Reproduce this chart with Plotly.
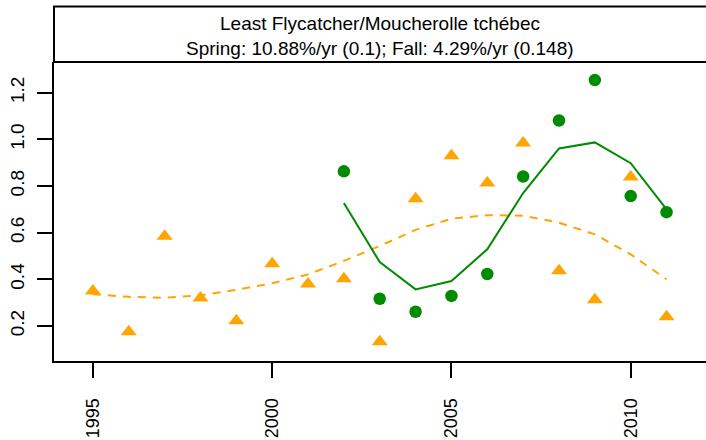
import plotly.graph_objects as go

# datos
years = list(range(1995, 2012))
fall = [0.35, 0.175, 0.585, 0.32, 0.222, 0.467, 0.38, 0.403, 0.133, 0.745,
        0.93, 0.813, 0.984, 0.437, 0.312, 0.839, 0.24]
fall_trend = [0.336, 0.325, 0.321, 0.331, 0.355, 0.383, 0.421, 0.479, 0.543, 0.612,
              0.66, 0.675, 0.673, 0.643, 0.593, 0.507, 0.40]

spring_years = list(range(2002, 2012))
spring = [0.863, 0.317, 0.261, 0.329, 0.423, 0.841, 1.081, 1.254, 0.757, 0.688]
spring_trend = [0.727, 0.474, 0.357, 0.393, 0.529, 0.77, 0.961, 0.987, 0.898, 0.70]

title1 = "Least Flycatcher/Moucherolle tchébec"
title2 = "Spring: 10.88%/yr (0.1); Fall: 4.29%/yr (0.148)"
xticks = [1995, 2000, 2005, 2010]
yticks = [0.2, 0.4, 0.6, 0.8, 1.0, 1.2]

green = "#008B00"
orange = "#FFA500"

fig = go.Figure()
fig.add_trace(go.Scatter(x=years, y=fall_trend, mode="lines",
                         line=dict(color=orange, width=2, dash="8px,7px")))
fig.add_trace(go.Scatter(x=spring_years, y=spring_trend, mode="lines",
                         line=dict(color=green, width=2)))
fig.add_trace(go.Scatter(x=years, y=fall, mode="markers",
                         marker=dict(symbol="triangle-up", size=14, color=orange)))
fig.add_trace(go.Scatter(x=spring_years, y=spring, mode="markers",
                         marker=dict(symbol="circle", size=12.5, color=green)))

axis_font = dict(family="Liberation Sans, Arial", size=19, color="black")

fig.update_xaxes(range=[1993.915, 2012.1], tickvals=xticks, ticks="outside", ticklen=15,
                 tickwidth=1.5, tickcolor="black", showline=True, linecolor="black",
                 linewidth=2, showgrid=False, zeroline=False, tickangle=-90,
                 tickfont=dict(family="Liberation Sans, Arial", size=18, color="black"),
                 ticklabelstandoff=13, automargin=False)
fig.update_yaxes(range=[0.05, 1.3316], tickvals=yticks, tickformat=".1f", ticks="outside",
                 ticklen=15, tickwidth=1.5, tickcolor="black", showline=True,
                 linecolor="black", linewidth=2, showgrid=False, zeroline=False,
                 tickangle=-90, tickfont=axis_font, ticklabelstandoff=5, automargin=False)

# caja del titulo (strip)
fig.add_shape(type="rect", xref="paper", yref="paper", x0=0, x1=1.05, y0=1, y1=1 + 55.5 / 299,
              line=dict(color="black", width=2), fillcolor="rgba(0,0,0,0)")

title_font = dict(family="Liberation Sans, Arial", size=19, color="black")
fig.add_annotation(text=title1, xref="paper", yref="paper", x=0.5, y=(361 - 23) / 299,
                   showarrow=False, font=title_font, yanchor="middle")
fig.add_annotation(text=title2, xref="paper", yref="paper", x=0.5, y=(361 - 48) / 299,
                   showarrow=False, font=title_font, yanchor="middle")

fig.update_layout(width=706, height=440, margin=dict(l=54, r=0, t=62, b=79),
                  showlegend=False, plot_bgcolor="white", paper_bgcolor="white")

# quitar el margen del body para que la figura quede en 0,0
fig.write_html("out.html", config={"displayModeBar": False},
               post_script="document.body.style.margin='0';")
